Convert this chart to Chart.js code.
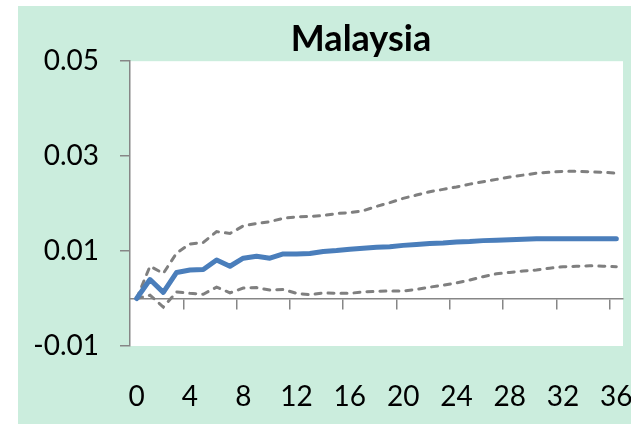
<!DOCTYPE html>
<html>
<head>
<meta charset="utf-8">
<script src="https://cdn.jsdelivr.net/npm/chart.js@4"></script>
<style>
  html, body { margin: 0; padding: 0; background: #ffffff; overflow: hidden; }
  body { width: 631px; height: 424px; position: relative; }
  #frame { position: absolute; left: 18px; top: 6px; width: 686px; height: 418px; background: #cbeddd; }
  #plot { display: block; }
</style>
</head>
<body>
<div id="frame"><canvas id="plot" width="686" height="418"></canvas></div>
<script>
// Impulse response for Malaysia with its confidence band (horizons 0..36)
const horizons = Array.from({ length: 37 }, (_, i) => String(i));

const response = [
  0, 0.0040, 0.0013, 0.0055, 0.0060, 0.0061, 0.0081, 0.0068, 0.0085, 0.0089,
  0.0085, 0.0094, 0.0094, 0.0095, 0.0099, 0.0101, 0.0104, 0.0106, 0.0108, 0.0109,
  0.0112, 0.0114, 0.0116, 0.0117, 0.0119, 0.0120, 0.0122, 0.0123, 0.0124, 0.0125,
  0.0126, 0.0126, 0.0126, 0.0126, 0.0126, 0.0126, 0.0126
];

const upperBand = [
  0, 0.0068, 0.0053, 0.0096, 0.0115, 0.0118, 0.0141, 0.0137, 0.0153, 0.0158,
  0.0162, 0.0169, 0.0172, 0.0173, 0.0175, 0.0179, 0.0181, 0.0185, 0.0194, 0.0202,
  0.0211, 0.0218, 0.0225, 0.0230, 0.0235, 0.0241, 0.0246, 0.0251, 0.0256, 0.0260,
  0.0264, 0.0266, 0.0268, 0.0268, 0.0267, 0.0266, 0.0264
];

const lowerBand = [
  0, 0.0007, -0.0018, 0.0014, 0.0011, 0.0009, 0.0024, 0.0012, 0.0022, 0.0023,
  0.0018, 0.0019, 0.0011, 0.0008, 0.0012, 0.0011, 0.0011, 0.0014, 0.0015, 0.0016,
  0.0016, 0.0019, 0.0024, 0.0028, 0.0033, 0.0039, 0.0046, 0.0052, 0.0055, 0.0058,
  0.0060, 0.0064, 0.0067, 0.0068, 0.0069, 0.0068, 0.0067
];

const yMin = -0.01;
const yMax = 0.05;
const yStep = 0.02;
const labelEvery = 4;

const axisGrey = '#868686';
const bandGrey = '#7f7f7f';
const lineBlue = '#4a7ebb';
const tickFont = { family: 'Lato', size: 28 };

const bandStyle = {
  borderColor: bandGrey,
  borderWidth: 3,
  borderDash: [6, 7],
  borderCapStyle: 'round',
  pointRadius: 0,
  tension: 0,
  fill: false
};

// white plot area on the green chart background
const plotAreaFill = {
  id: 'plotAreaFill',
  beforeDraw(chart) {
    const { ctx, chartArea: a } = chart;
    ctx.save();
    ctx.fillStyle = '#ffffff';
    ctx.fillRect(a.left, a.top, a.right - a.left, a.bottom - a.top);
    ctx.restore();
  }
};

new Chart(document.getElementById('plot'), {
  type: 'line',
  data: {
    labels: horizons,
    datasets: [
      { label: 'Response', data: response, borderColor: lineBlue, borderWidth: 5,
        pointRadius: 0, tension: 0, fill: false, borderJoinStyle: 'round', borderCapStyle: 'round' },
      Object.assign({ label: 'Upper', data: upperBand }, bandStyle),
      Object.assign({ label: 'Lower', data: lowerBand }, bandStyle)
    ]
  },
  plugins: [plotAreaFill],
  options: {
    responsive: false,
    animation: false,
    events: [],
    layout: { padding: 0 },
    plugins: {
      legend: { display: false },
      tooltip: { enabled: false },
      title: {
        display: true,
        text: 'Malaysia',
        color: '#000000',
        font: { family: 'Lato', size: 36, weight: 'bold', lineHeight: 1.2 },
        padding: { top: 12, bottom: 0 },
        align: 'center'
      }
    },
    scales: {
      // bottom axis: carries only the horizon labels
      x: {
        type: 'category',
        offset: true,
        border: { display: false },
        grid: { display: false, drawTicks: false },
        ticks: {
          autoSkip: false,
          maxRotation: 0,
          color: '#000000',
          font: tickFont,
          padding: 34,
          callback: function (v, i) { return i % labelEvery === 0 ? this.getLabelForValue(v) : ''; }
        },
        afterFit: s => { s.height = 78; }
      },
      // zero line with its tick marks between horizons
      x2: {
        type: 'category',
        position: { y: 0 },
        offset: true,
        border: { display: true, color: axisGrey, width: 1.5 },
        grid: {
          offset: true,
          drawOnChartArea: false,
          drawTicks: true,
          tickLength: 10,
          lineWidth: 1.5,
          color: ctx => (ctx.index !== undefined && ctx.index > 0 && ctx.index % labelEvery === 0) ? axisGrey : 'rgba(0,0,0,0)'
        },
        ticks: { display: false, autoSkip: false }
      },
      y: {
        type: 'linear',
        min: yMin,
        max: yMax,
        border: { display: true, color: axisGrey, width: 1.5 },
        grid: { drawOnChartArea: false, drawTicks: true, tickLength: 10, color: axisGrey, lineWidth: 1.5 },
        ticks: {
          stepSize: yStep,
          color: '#000000',
          font: tickFont,
          padding: 21,
          callback: v => v.toFixed(2)
        },
        afterFit: s => { s.width = 112; }
      },
      // empty right-hand margin of the chart frame
      yMargin: {
        type: 'linear',
        position: 'right',
        border: { display: false },
        grid: { display: false, drawTicks: false },
        ticks: { display: false },
        afterFit: s => { s.width = 81; }
      }
    }
  }
});
</script>
</body>
</html>
